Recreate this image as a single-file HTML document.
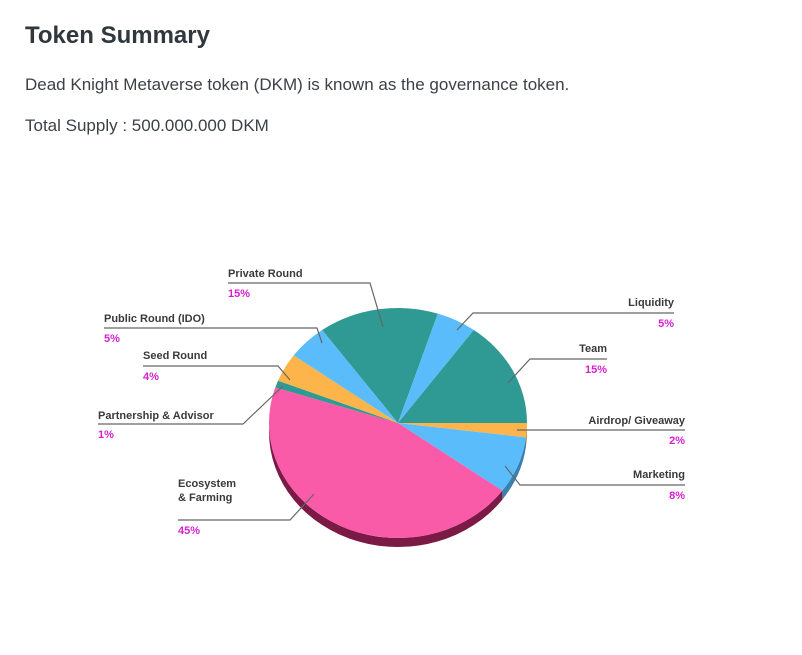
<!DOCTYPE html>
<html><head><meta charset="utf-8">
<style>
body{margin:0;width:802px;height:655px;background:#fff;font-family:"Liberation Sans",sans-serif;overflow:hidden;position:relative}
h1{position:absolute;left:25px;top:22px;margin:0;font-size:24px;font-weight:bold;color:#30373d}
p{position:absolute;left:25px;margin:0;font-size:17px;color:#3c4146}
svg{position:absolute;left:0;top:0}
.lb{font-size:11px;font-weight:bold;fill:#3a3a3a}
.pc{font-size:11px;font-weight:bold;fill:#d81fd0}
</style></head><body>
<h1>Token Summary</h1>
<p style="top:75px">Dead Knight Metaverse token (DKM) is known as the governance token.</p>
<p style="top:116px">Total Supply : 500.000.000 DKM</p>
<svg id="chart" width="802" height="655"></svg>
<script>
const categories=["Airdrop/ Giveaway","Marketing","Ecosystem & Farming","Partnership & Advisor","Seed Round","Public Round (IDO)","Private Round","Liquidity","Team"];
const values=[2,8,45,1,4,5,15,5,15];
const colors=["#fdb44b","#5bbcfc","#f95ba9","#2f9a93","#fdb44b","#5bbcfc","#2f9a93","#5bbcfc","#2f9a93"];
const sideColors=["#b07a20","#3b7fae","#7a1a45","#1f6a65","#b07a20","#3b7fae","#1f6a65","#3b7fae","#1f6a65"];
const cx=398,cy=423,rx=129,ry=115,depth=9;
const svg=document.getElementById('chart');
const NS='http://www.w3.org/2000/svg';
const total=values.reduce((a,b)=>a+b,0);
function pt(a,dy){return [cx+rx*Math.cos(a),cy+ry*Math.sin(a)+(dy||0)];}
let start=0;
const slices=[];
values.forEach((v,i)=>{const a0=start,a1=start+v/total*2*Math.PI;slices.push([a0,a1]);start=a1;});
slices.forEach(([a0,a1],i)=>{
  const s=Math.max(a0,0),e=Math.min(a1,Math.PI);
  if(e<=s)return;
  const p0=pt(s),p1=pt(e),p2=pt(e,depth),p3=pt(s,depth);
  const path=document.createElementNS(NS,'path');
  path.setAttribute('d',`M${p0} A${rx},${ry} 0 0 1 ${p1} L${p2} A${rx},${ry} 0 0 0 ${p3} Z`);
  path.setAttribute('fill',sideColors[i]);
  
  
  svg.appendChild(path);
});
slices.forEach(([a0,a1],i)=>{
  const p0=pt(a0),p1=pt(a1);
  const large=(a1-a0)>Math.PI?1:0;
  const path=document.createElementNS(NS,'path');
  path.setAttribute('d',`M${cx},${cy} L${p0} A${rx},${ry} 0 ${large} 1 ${p1} Z`);
  path.setAttribute('fill',colors[i]);
  
  
  svg.appendChild(path);
});
const labelPos=[
 [685,424,'end',430,517,517,430,null],
 [685,478,'end',485,520,505,466,null],
 [178,501,'start',520,290,314,494,'& Farming'],
 [98,419,'start',424,243,283,386,null],
 [143,359,'start',366,278,290,380,null],
 [104,322,'start',328,317,322,343,null],
 [228,277,'start',283,370,383,327,null],
 [674,306,'end',313,473,457,330,null],
 [607,352,'end',359,530,508,383,null]
];
categories.forEach((c,i)=>{
  const [tx,ty,anc,ly,lx,px,py,extra]=labelPos[i];
  const line=document.createElementNS(NS,'polyline');
  line.setAttribute('points',`${tx},${ly} ${lx},${ly} ${px},${py}`);
  line.setAttribute('fill','none');line.setAttribute('stroke','#666');line.setAttribute('stroke-width','1.2');
  
  
  svg.appendChild(line);
  const t=document.createElementNS(NS,'text');
  t.setAttribute('x',tx);t.setAttribute('y',extra?ty-14:ty);t.setAttribute('text-anchor',anc);t.setAttribute('class','lb');
  t.textContent=extra?'Ecosystem':c;
  
  
  svg.appendChild(t);
  if(extra){const t2=document.createElementNS(NS,'text');t2.setAttribute('x',tx);t2.setAttribute('y',ty);t2.setAttribute('class','lb');t2.textContent=extra;
    
    
    svg.appendChild(t2);}
  const p=document.createElementNS(NS,'text');
  p.setAttribute('x',tx);p.setAttribute('y',ly+14);p.setAttribute('text-anchor',anc);p.setAttribute('class','pc');
  p.textContent=values[i]+'%';
  
  
  svg.appendChild(p);
});
</script>
</body></html>
